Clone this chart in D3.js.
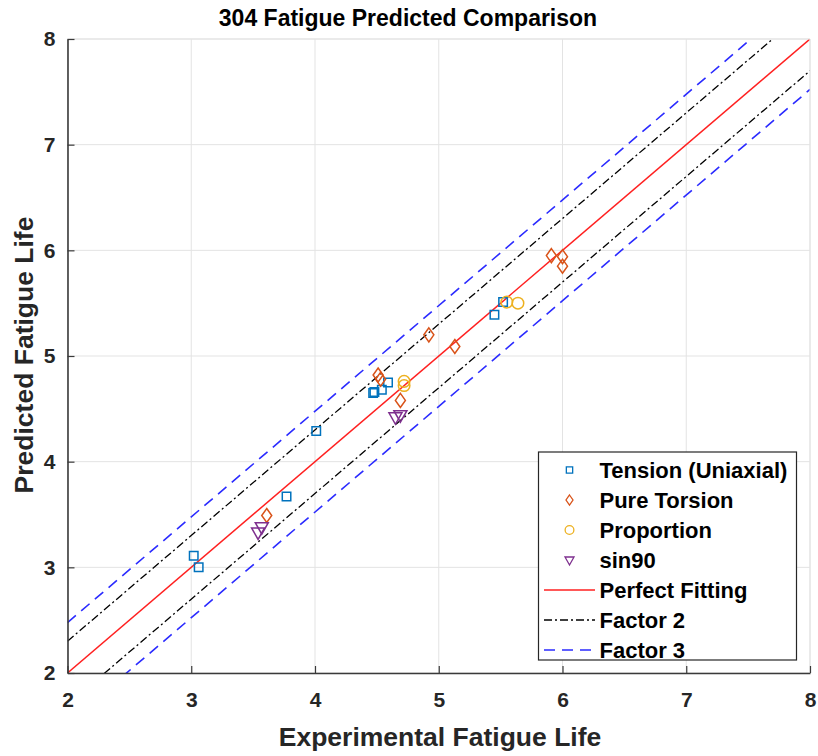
<!DOCTYPE html>
<html>
<head>
<meta charset="utf-8">
<script src="https://cdn.jsdelivr.net/npm/d3@7"></script>
<style>
  body { margin: 0; background: #fff; }
  svg { display: block; font-family: "Liberation Sans", Arial, Helvetica, sans-serif; }
</style>
</head>
<body>
<svg id="chart" width="818" height="756"></svg>
<script>
// ---- data ----
const tensionX = [3.02, 3.06, 3.77, 4.01, 4.47, 4.48, 4.54, 4.59, 5.45, 5.52];
const tensionY = [3.11, 3.00, 3.67, 4.29, 4.65, 4.66, 4.68, 4.75, 5.39, 5.51];
const torsionX = [3.61, 4.51, 4.53, 4.69, 4.92, 5.13, 5.91, 6.00, 6.00];
const torsionY = [3.49, 4.82, 4.78, 4.58, 5.20, 5.09, 5.95, 5.94, 5.85];
const proportionX = [4.72, 4.72, 5.55, 5.64];
const proportionY = [4.76, 4.72, 5.51, 5.50];
const sin90X = [3.54, 3.57, 4.65, 4.69];
const sin90Y = [3.33, 3.38, 4.42, 4.44];
const lineRange = [2, 8];
const factor2Offset = 0.301; // log10(2)
const factor3Offset = 0.477; // log10(3)
const xTicks = [2, 3, 4, 5, 6, 7, 8];
const yTicks = [2, 3, 4, 5, 6, 7, 8];
const legendLabels = ["Tension (Uniaxial)", "Pure Torsion", "Proportion", "sin90", "Perfect Fitting", "Factor 2", "Factor 3"];

// ---- layout ----
const L = 67.5, R = 810, T = 39, B = 673;
const svg = d3.select("#chart");
const x = d3.scaleLinear().domain([2, 8]).range([L, R]);
const y = d3.scaleLinear().domain([2, 8]).range([B, T]);

const C = { tension: "#0072BD", torsion: "#D95319", prop: "#EDB120", sin: "#7E2F8E" };

// grid
const grid = svg.append("g");
grid.selectAll(".gx").data(xTicks).join("line")
  .attr("x1", d => x(d)).attr("x2", d => x(d)).attr("y1", T).attr("y2", B)
  .attr("stroke", "#e3e3e3").attr("stroke-width", 1);
grid.selectAll(".gy").data(yTicks).join("line")
  .attr("y1", d => y(d)).attr("y2", d => y(d)).attr("x1", L).attr("x2", R)
  .attr("stroke", "#e3e3e3").attr("stroke-width", 1);

// clip
svg.append("clipPath").attr("id", "clip").append("rect")
  .attr("x", L).attr("y", T).attr("width", R - L).attr("height", B - T);
const plot = svg.append("g").attr("clip-path", "url(#clip)");

const line = d3.line().x(d => x(d[0])).y(d => y(d[1]));
function diag(off) {
  return lineRange.map(v => [v, v + off]);
}
// factor 3
plot.append("path").attr("d", line(diag(factor3Offset))).attr("fill", "none")
  .attr("stroke", "#2b2bff").attr("stroke-width", 1.6).attr("stroke-dasharray", "11,7");
plot.append("path").attr("d", line(diag(-factor3Offset))).attr("fill", "none")
  .attr("stroke", "#2b2bff").attr("stroke-width", 1.6).attr("stroke-dasharray", "11,7");
// factor 2
plot.append("path").attr("d", line(diag(factor2Offset))).attr("fill", "none")
  .attr("stroke", "#000").attr("stroke-width", 1.3).attr("stroke-dasharray", "8,3,2,3");
plot.append("path").attr("d", line(diag(-factor2Offset))).attr("fill", "none")
  .attr("stroke", "#000").attr("stroke-width", 1.3).attr("stroke-dasharray", "8,3,2,3");
// perfect
plot.append("path").attr("d", line(diag(0))).attr("fill", "none")
  .attr("stroke", "#ff2020").attr("stroke-width", 1.5);

// markers
const sym = {
  square: d3.symbol().type(d3.symbolSquare).size(72),
  diamond: "M0,-7L5,0L0,7L-5,0Z",
  circle: d3.symbol().type(d3.symbolCircle).size(105),
  tri: "M-6.5,-4.5L6.5,-4.5L0,7Z"
};
function drawPts(xs, ys, shape, color) {
  const pts = xs.map((v, i) => [v, ys[i]]);
  svg.append("g").selectAll("path").data(pts).join("path")
    .attr("transform", d => `translate(${x(d[0])},${y(d[1])})`)
    .attr("d", typeof shape === "string" ? shape : shape())
    .attr("fill", "none").attr("stroke", color).attr("stroke-width", 1.5);
}
drawPts(tensionX, tensionY, sym.square, C.tension);
drawPts(torsionX, torsionY, sym.diamond, C.torsion);
drawPts(proportionX, proportionY, sym.circle, C.prop);
drawPts(sin90X, sin90Y, sym.tri, C.sin);

// axes
const axisColor = "#3a3a3a";
svg.append("line").attr("x1", L).attr("x2", R).attr("y1", T).attr("y2", T).attr("stroke", "#e3e3e3");
svg.append("line").attr("x1", R).attr("x2", R).attr("y1", T).attr("y2", B).attr("stroke", "#e3e3e3");
const fmt = d3.format("d");
const xAxis = svg.append("g").attr("transform", `translate(0,${B})`)
  .call(d3.axisBottom(x).tickValues(xTicks).tickFormat(fmt).tickSizeInner(-7).tickSizeOuter(0).tickPadding(19));
const yAxis = svg.append("g").attr("transform", `translate(${L},0)`)
  .call(d3.axisLeft(y).tickValues(yTicks).tickFormat(fmt).tickSizeInner(-7).tickSizeOuter(0).tickPadding(12));
[xAxis, yAxis].forEach(a => {
  a.select(".domain").attr("stroke", axisColor).attr("stroke-width", 1.6);
  a.selectAll(".tick line").attr("stroke", axisColor).attr("stroke-width", 1.2);
  a.selectAll("text").attr("fill", "#262626").attr("font-size", 21).attr("font-weight", "bold")
    .attr("font-family", "Liberation Sans, Arial, sans-serif");
});

// titles
svg.append("text").attr("x", 408).attr("y", 26).attr("text-anchor", "middle")
  .attr("font-size", 23).attr("font-weight", "bold").attr("fill", "#000")
  .text("304 Fatigue Predicted Comparison");
svg.append("text").attr("x", 440).attr("y", 746).attr("text-anchor", "middle")
  .attr("font-size", 26.5).attr("font-weight", "bold").attr("fill", "#262626")
  .text("Experimental Fatigue Life");
svg.append("text").attr("transform", "translate(33,355) rotate(-90)").attr("text-anchor", "middle")
  .attr("font-size", 26.5).attr("font-weight", "bold").attr("fill", "#262626")
  .text("Predicted Fatigue Life");

// legend
const lg = svg.append("g");
const LX = 538.5, LY = 452, LW = 258, LH = 208;
lg.append("rect").attr("x", LX).attr("y", LY).attr("width", LW).attr("height", LH)
  .attr("fill", "#fff").attr("stroke", "#262626").attr("stroke-width", 1.2);
const rowY = i => 470 + i * 30;
const mx = 569.5;
const legendItems = [
  { t: "m", s: sym.square, c: C.tension },
  { t: "m", s: sym.diamond, c: C.torsion },
  { t: "m", s: sym.circle, c: C.prop },
  { t: "m", s: sym.tri, c: C.sin },
  { t: "l", c: "#ff2020", w: 1.5, da: null },
  { t: "l", c: "#000", w: 1.3, da: "8,3,2,3" },
  { t: "l", c: "#2b2bff", w: 1.6, da: "11,7" }
];
legendItems.forEach((it, i) => {
  const cy = rowY(i);
  if (it.t === "m") {
    let d;
    if (it.s === sym.square) d = d3.symbol().type(d3.symbolSquare).size(40)();
    else if (it.s === sym.circle) d = d3.symbol().type(d3.symbolCircle).size(60)();
    else if (it.s === sym.diamond) d = "M0,-5L3.5,0L0,5L-3.5,0Z";
    else d = "M-4.5,-3L4.5,-3L0,5Z";
    lg.append("path").attr("transform", `translate(${mx},${cy})`).attr("d", d)
      .attr("fill", "none").attr("stroke", it.c).attr("stroke-width", 1.3);
  } else {
    lg.append("line").attr("x1", 544).attr("x2", 595).attr("y1", cy).attr("y2", cy)
      .attr("stroke", it.c).attr("stroke-width", it.w).attr("stroke-dasharray", it.da);
  }
  lg.append("text").attr("x", 599.5).attr("y", cy + 7.5)
    .attr("font-size", 22).attr("font-weight", "bold").attr("fill", "#000")
    .text(legendLabels[i]);
});
</script>
</body>
</html>
